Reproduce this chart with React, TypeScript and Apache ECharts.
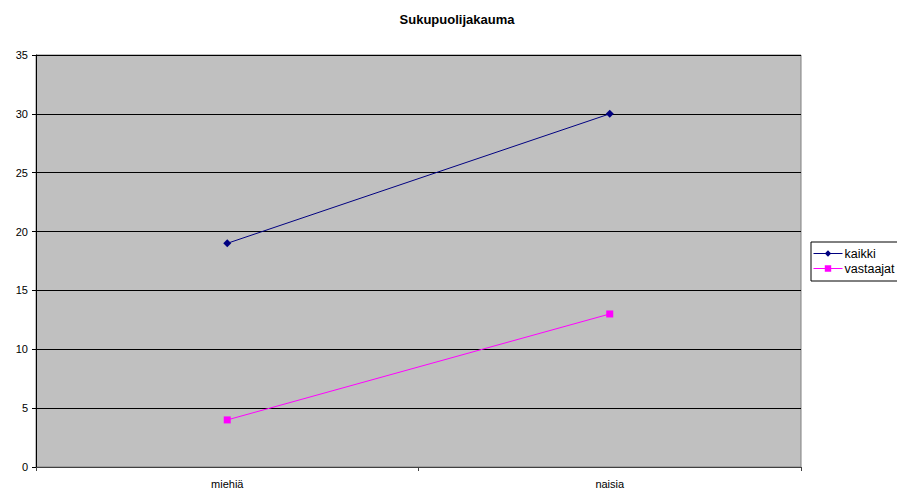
import React, { useEffect, useRef } from "react";
import * as echarts from "echarts";

const categories = ["miehiä", "naisia"];
const kaikki = [19, 30];
const vastaajat = [4, 13];
const yTicks = { min: 0, max: 35, interval: 5 };

export default function App() {
  const ref = useRef<HTMLDivElement>(null);
  useEffect(() => {
    document.body.style.margin = "0";
    const chart = echarts.init(ref.current!, null, { renderer: "svg" });
    const font = "Liberation Sans, Arial, sans-serif";
    chart.setOption({
      animation: false,
      backgroundColor: "#ffffff",
      title: {
        text: "Sukupuolijakauma",
        left: 452,
        textAlign: "center",
        top: 8,
        textStyle: { fontFamily: font, fontSize: 13, fontWeight: "bold", color: "#000" },
      },
      legend: {
        orient: "vertical",
        left: 811,
        top: 242,
        borderColor: "#000",
        borderWidth: 1,
        padding: [4, 20, 5, 2],
        itemGap: 0,
        itemWidth: 29,
        itemHeight: 8,
        lineStyle: { width: 1 },
        textStyle: { fontFamily: font, fontSize: 12.5, color: "#000", padding: [0, 0, 0, -3], lineHeight: 15 },
        data: ["kaikki", "vastaajat"],
      },
      grid: {
        left: 36,
        right: 96,
        top: 55,
        bottom: 24,
        show: true,
        backgroundColor: "#c0c0c0",
        borderColor: "#808080",
        borderWidth: 1,
      },
      xAxis: {
        type: "category",
        data: categories,
        boundaryGap: true,
        axisLine: { lineStyle: { color: "#404040", width: 1 } },
        axisTick: { show: true, length: 4, lineStyle: { color: "#404040" } },
        axisLabel: { fontFamily: font, fontSize: 11, color: "#000", margin: 11 },
      },
      yAxis: {
        type: "value",
        min: yTicks.min,
        max: yTicks.max,
        interval: yTicks.interval,
        axisLine: { show: true, lineStyle: { color: "#000", width: 1 } },
        axisTick: { show: true, length: 4, lineStyle: { color: "#000" } },
        axisLabel: { fontFamily: font, fontSize: 11, color: "#000", margin: 8 },
        splitLine: { show: true, lineStyle: { color: "#000", width: 1 } },
      },
      series: [
        {
          name: "kaikki",
          type: "line",
          data: kaikki,
          symbol: "diamond",
          symbolSize: 8,
          lineStyle: { color: "#000080", width: 1 },
          itemStyle: { color: "#000080" },
        },
        {
          name: "vastaajat",
          type: "line",
          data: vastaajat,
          symbol: "rect",
          symbolSize: 7,
          lineStyle: { color: "#ff00ff", width: 1 },
          itemStyle: { color: "#ff00ff" },
        },
      ],
    });
    return () => chart.dispose();
  }, []);
  return <div ref={ref} style={{ width: 897, height: 491 }} />;
}
